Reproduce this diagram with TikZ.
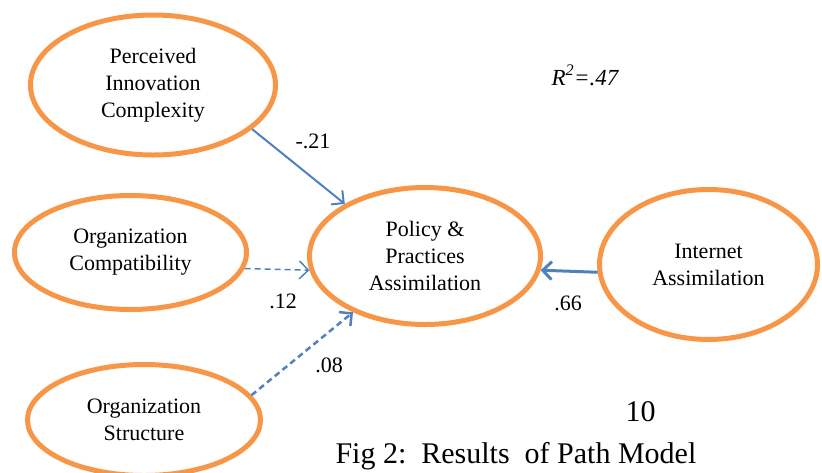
\documentclass[tikz,border=0pt]{standalone}
\usepackage{fontspec}
\setmainfont{Liberation Serif}
\usepackage{tikz}
\usetikzlibrary{arrows.meta,shapes.geometric}
\definecolor{pathorange}{RGB}{247,150,70}
\definecolor{pathblue}{RGB}{79,129,189}

\begin{document}
\begin{tikzpicture}[
  x=1pt,y=-1pt,
  construct/.style={draw=pathorange,line width=5pt,ellipse,inner sep=0pt,align=center,
    font=\fontsize{22}{27}\selectfont},
  arrow/.style={-{Straight Barb[length=9pt,width=18pt]},pathblue,line width=2pt},
  dasharrow/.style={arrow,dash pattern=on 6pt off 4pt},
  coef/.style={anchor=base,font=\fontsize{22}{26}\selectfont}
]
\useasboundingbox (0,0) rectangle (822,472);
\node[construct,minimum width=245pt,minimum height=140pt] (pic) at (153,85) {Perceived\\Innovation\\Complexity};
\node[construct,minimum width=232pt,minimum height=114pt] (comp) at (130.5,252.5) {Organization\\Compatibility};
\node[construct,minimum width=233pt,minimum height=111pt] (struct) at (144,420) {Organization\\Structure};
\node[construct,minimum width=231pt,minimum height=137pt] (ppa) at (425,256) {Policy \&\\Practices\\Assimilation};
\node[construct,minimum width=218pt,minimum height=150pt] (inet) at (708.5,264.5) {Internet\\Assimilation};
\node[coef] (c21) at (313,148) {-.21};
\node[coef] (c12) at (283,308) {.12};
\node[coef] (c08) at (329,372) {.08};
\node[coef] (c66) at (568,310) {.66};
\node[anchor=base west,font=\fontsize{23}{27}\selectfont\itshape] (rsq) at (548,85) {R\textsuperscript{2}=.47};
\node[anchor=base west,font=\fontsize{30}{34}\selectfont] (page) at (622,421) {10};
\node[anchor=base west,font=\fontsize{30}{34}\selectfont] (cap) at (332,463) {Fig 2:\ \ Results\ \ of Path Model};
\draw[arrow] (pic.-24) -- (ppa.147);
\draw[dasharrow,line width=1.5pt] (comp.-8) -- (ppa.187);
\draw[dasharrow,line width=2.5pt] (struct.13) -- (ppa.218);
\draw[arrow,line width=3pt] (inet.184) -- (ppa.-7);
\end{tikzpicture}
\end{document}
